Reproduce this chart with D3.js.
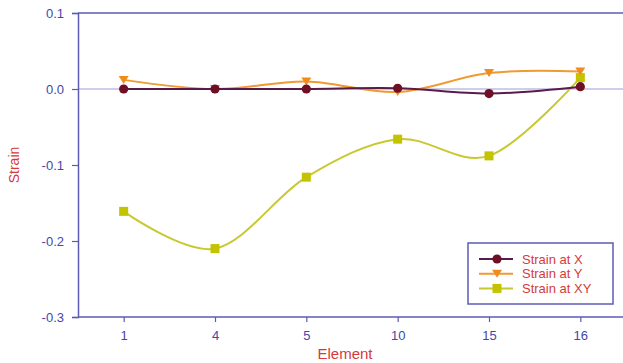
<!DOCTYPE html>
<html>
<head>
<meta charset="utf-8">
<script src="https://cdn.jsdelivr.net/npm/d3@7"></script>
<style>
  body { margin: 0; background: #fff; overflow: hidden; }
  text { font-family: "Liberation Sans", Arial, sans-serif; }
</style>
</head>
<body>
<script>
var elements = ["1", "4", "5", "10", "15", "16"];
var strainX  = [0.0, 0.0, 0.0, 0.001, -0.006, 0.003];
var strainY  = [0.012, 0.0, 0.010, -0.004, 0.021, 0.023];
var strainXY = [-0.161, -0.210, -0.116, -0.066, -0.088, 0.015];
var yTicks = [0.1, 0.0, -0.1, -0.2, -0.3];
var seriesNames = ["Strain at X", "Strain at Y", "Strain at XY"];

var w = 623, h = 363;
var axisCol = "#5b5bb5", tickCol = "#4646a6", titleCol = "#d53a3a";

var svg = d3.select("body").append("svg")
    .attr("width", w).attr("height", h);

var x = d3.scalePoint().domain(elements).range([78, 626]).padding(0.5);
var y = d3.scaleLinear().domain([-0.3, 0.1]).range([317, 13]);

// zero reference line and top frame
svg.append("line").attr("x1", 78).attr("x2", w)
   .attr("y1", y(0)).attr("y2", y(0))
   .attr("stroke", "#9d9dd8").attr("stroke-width", 1);
svg.append("line").attr("x1", 78).attr("x2", w)
   .attr("y1", y(0.1)).attr("y2", y(0.1))
   .attr("stroke", axisCol).attr("stroke-width", 1.5);

// axes
var yAxis = svg.append("g").attr("transform", "translate(78,0)")
    .call(d3.axisLeft(y).tickValues(yTicks)
      .tickFormat(function(d) { return d.toFixed(1).replace("−", "-"); })
      .tickSizeOuter(0).tickSize(6).tickPadding(8));
var xAxis = svg.append("g").attr("transform", "translate(0,317)")
    .call(d3.axisBottom(x).tickSizeOuter(0).tickSize(5).tickPadding(9));
xAxis.select(".domain").attr("d", "M78,0H" + w);
[yAxis, xAxis].forEach(function(a) {
  a.select(".domain").attr("stroke", axisCol).attr("stroke-width", 1.5);
  a.selectAll(".tick line").attr("stroke", axisCol).attr("stroke-width", 1.2);
  a.selectAll(".tick text").attr("fill", tickCol)
    .style("font-size", "13px").style("font-family", "Liberation Sans, Arial, sans-serif");
});

svg.append("text").attr("transform", "translate(19,165) rotate(-90)")
   .attr("text-anchor", "middle").attr("fill", titleCol)
   .style("font-size", "14px").text("Strain");
svg.append("text").attr("x", 345).attr("y", 359)
   .attr("text-anchor", "middle").attr("fill", titleCol)
   .style("font-size", "15px").text("Element");

var series = [
  {name: seriesNames[0], values: strainX,  color: "#6e0f25", line: "#5a1a4a", shape: "circle"},
  {name: seriesNames[1], values: strainY,  color: "#f08c1e", line: "#f09a34", shape: "triangle"},
  {name: seriesNames[2], values: strainXY, color: "#c3c300", line: "#c8c830", shape: "square"}
];

var line = d3.line()
    .x(function(d, i) { return x(elements[i]); })
    .y(function(d) { return y(d); })
    .curve(d3.curveCardinal.tension(0));

function marker(g, shape, cx, cy, color) {
  if (shape === "circle") {
    g.append("circle").attr("cx", cx).attr("cy", cy).attr("r", 4.6).attr("fill", color);
  } else if (shape === "triangle") {
    g.append("path").attr("d", "M" + (cx - 5) + "," + (cy - 4) + "L" + (cx + 5) + "," + (cy - 4) + "L" + cx + "," + (cy + 4) + "Z")
      .attr("fill", color);
  } else {
    g.append("rect").attr("x", cx - 4.5).attr("y", cy - 4.5).attr("width", 9).attr("height", 9).attr("fill", color);
  }
}

// draw XY first so the X/Y lines sit above
[2, 1, 0].forEach(function(k) {
  var s = series[k];
  var g = svg.append("g");
  g.append("path").attr("d", line(s.values)).attr("fill", "none")
    .attr("stroke", s.line).attr("stroke-width", 2);
  s.values.forEach(function(v, i) { marker(g, s.shape, x(elements[i]), y(v), s.color); });
});

// legend
var lg = svg.append("g");
lg.append("rect").attr("x", 468).attr("y", 243).attr("width", 145).attr("height", 61)
  .attr("fill", "#fff").attr("stroke", axisCol).attr("stroke-width", 1.5);
series.forEach(function(s, i) {
  var ly = 259 + i * 14.7;
  lg.append("line").attr("x1", 479).attr("x2", 513).attr("y1", ly).attr("y2", ly)
    .attr("stroke", s.line).attr("stroke-width", 2);
  marker(lg, s.shape, 497, ly, s.color);
  lg.append("text").attr("x", 522).attr("y", ly + 4.5).attr("fill", titleCol)
    .style("font-size", "13px").text(s.name);
});
</script>
</body>
</html>
